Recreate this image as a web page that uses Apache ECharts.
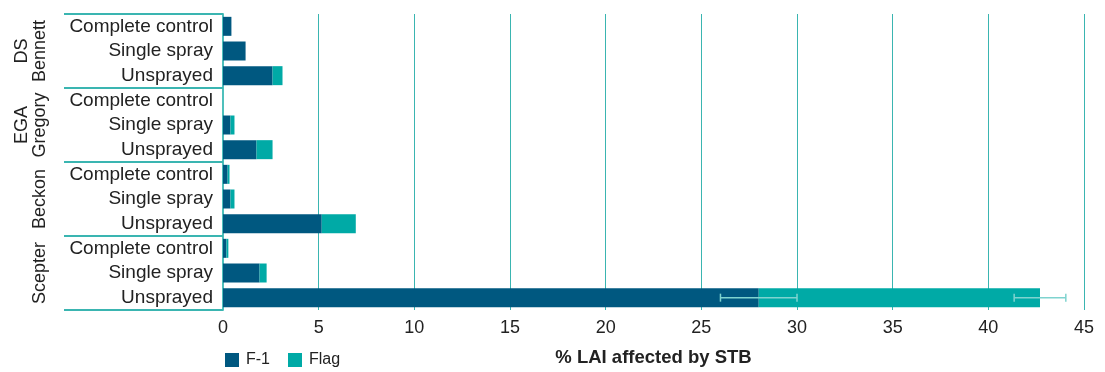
<!DOCTYPE html>
<html>
<head>
<meta charset="utf-8">
<script src="https://cdn.jsdelivr.net/npm/echarts@6/dist/echarts.min.js"></script>
<style>html,body{margin:0;padding:0;background:#fff}#c{width:1105px;height:372px}</style>
</head>
<body>
<div id="c"></div>
<script>
const groups = ['DS\nBennett', 'EGA\nGregory', 'Beckon', 'Scepter'];
const treatments = ['Complete control', 'Single spray', 'Unsprayed',
                    'Complete control', 'Single spray', 'Unsprayed',
                    'Complete control', 'Single spray', 'Unsprayed',
                    'Complete control', 'Single spray', 'Unsprayed'];
const f1 =   [0.44, 1.18, 2.59, 0.0, 0.39, 1.75, 0.24, 0.39, 5.16, 0.18, 1.91, 28.0];
const flag = [0.0,  0.0,  0.52, 0.0, 0.21, 0.84, 0.10, 0.21, 1.78, 0.10, 0.37, 14.7];
// error bars: [category index, centre, half-width]
const errF1 =   [[11, 28.0, 2.0]];
const errFlag = [[11, 42.7, 1.35]];
const xTicks = [0, 5, 10, 15, 20, 25, 30, 35, 40, 45];

const TEAL_LINE = '#3ab5b1';
const FONT = 'Liberation Sans';

const errData = errF1.map(e => [e[1] - e[2], e[1] + e[2], e[0]])
  .concat(errFlag.map(e => [e[1] - e[2], e[1] + e[2], e[0]]));

const chart = echarts.init(document.getElementById('c'));
chart.setOption({
  animation: false,
  textStyle: { fontFamily: FONT },
  grid: { left: 223, right: 21, top: 14, bottom: 58 },
  legend: {
    left: 220, top: 347, itemWidth: 14, itemHeight: 14, itemGap: 18,
    icon: 'rect',
    textStyle: { fontFamily: FONT, fontSize: 16, color: '#222', padding: [0, 0, 0, 2] },
    data: ['F-1', 'Flag']
  },
  xAxis: {
    type: 'value', min: 0, max: 45, interval: 5,
    axisLine: { show: false }, axisTick: { show: false },
    splitLine: { show: true, lineStyle: { color: TEAL_LINE, width: 1 } },
    axisLabel: { fontSize: 18, color: '#222', margin: 9,
      formatter: v => xTicks.includes(v) ? String(v) : '' },
    name: '% LAI affected by STB', nameLocation: 'middle', nameGap: 38,
    nameTextStyle: { fontSize: 18.5, fontWeight: 'bold', color: '#222', fontFamily: FONT }
  },
  yAxis: [{
    type: 'category', data: treatments, inverse: true,
    axisLine: { show: true, lineStyle: { color: '#4fc0bc', width: 2 } },
    axisTick: { show: false },
    axisLabel: { fontSize: 19, color: '#222', margin: 10, interval: 0 }
  }, {
    type: 'category', data: groups, inverse: true, position: 'left', offset: 159,
    axisLine: { show: false },
    axisTick: { show: true, inside: true, length: 159, interval: 0,
      lineStyle: { color: TEAL_LINE, width: 2 } },
    axisLabel: { rotate: 90, fontSize: 18, color: '#222', margin: 15, lineHeight: 18, interval: 0 }
  }],
  series: [{
    name: 'F-1', type: 'bar', stack: 's', data: f1, barWidth: 19,
    itemStyle: { color: '#005880' }
  }, {
    name: 'Flag', type: 'bar', stack: 's', data: flag, barWidth: 19,
    itemStyle: { color: '#00aaa6' }
  }, {
    type: 'custom', z: 10, data: errData,
    renderItem: function (params, api) {
      const a = api.coord([api.value(0), api.value(2)]);
      const b = api.coord([api.value(1), api.value(2)]);
      const h = 4;
      const style = { stroke: '#7fd3cf', lineWidth: 1.5 };
      return { type: 'group', children: [
        { type: 'line', shape: { x1: a[0], y1: a[1], x2: b[0], y2: b[1] }, style: style },
        { type: 'line', shape: { x1: a[0], y1: a[1] - h, x2: a[0], y2: a[1] + h }, style: style },
        { type: 'line', shape: { x1: b[0], y1: b[1] - h, x2: b[0], y2: b[1] + h }, style: style }
      ]};
    }
  }]
});
</script>
</body>
</html>
